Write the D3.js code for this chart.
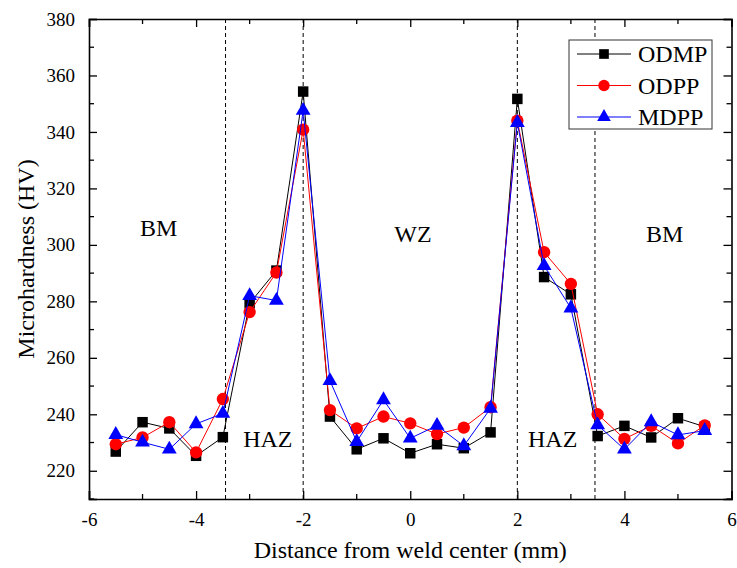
<!DOCTYPE html>
<html>
<head>
<meta charset="utf-8">
<script src="https://cdn.jsdelivr.net/npm/d3@7"></script>
<style>
  body { margin: 0; background: #fff; }
  svg { display: block; }
  svg text { font-family: "Liberation Serif", "Times New Roman", serif; fill: #000; }
</style>
</head>
<body>
<svg id="chart" width="737" height="568"></svg>
<script>
const distances = [-5.5, -5, -4.5, -4, -3.5, -3, -2.5, -2, -1.5, -1, -0.5, 0, 0.5, 1, 1.5, 2, 2.5, 3, 3.5, 4, 4.5, 5, 5.5]
const odmp = [226.8, 237.2, 235, 225.3, 231.9, 279.3, 290.9, 354.3, 239.2, 227.6, 231.5, 226.2, 229.4, 228, 233.6, 351.7, 288.6, 282.5, 232.3, 235.9, 231.8, 238.6, 235.6]
const odpp = [229.4, 231.8, 237.2, 226.5, 245.4, 276.2, 290.2, 340.8, 241.5, 235, 239.2, 236.8, 233, 235.3, 242.5, 344, 297.4, 286.2, 240, 231.3, 235.9, 229.7, 236.1]
const mdpp = [232.8, 230.1, 227.6, 236.6, 240.3, 282, 280.3, 347.6, 251.9, 230.3, 245.1, 231.5, 236, 228.8, 242.1, 343.3, 292.6, 277.6, 236.2, 227.6, 237.3, 232.7, 234.2]
const seriesNames = ["ODMP", "ODPP", "MDPP"]
const xTicks = [-6, -4, -2, 0, 2, 4, 6]
const yTicks = [220, 240, 260, 280, 300, 320, 340, 360, 380]
const zoneLines = [-3.45, -2, 2, 3.45]
const zoneLabels = [
  { text: "BM", x: -4.7, y: 306 },
  { text: "WZ", x: 0.05, y: 304 },
  { text: "BM", x: 4.75, y: 304 },
  { text: "HAZ", x: -2.66, y: 231.5 },
  { text: "HAZ", x: 2.66, y: 231.5 }
]

const svg = d3.select("#chart")
const margin = { top: 19, right: 5, bottom: 69, left: 89 }
const width = 737
const height = 568
const serif = "Liberation Serif"
const x = d3.scaleLinear().domain([-6, 6]).range([margin.left, width - margin.right - 0.5])
const y = d3.scaleLinear().domain([210, 380]).range([height - margin.bottom, margin.top])

const series = [
  { name: seriesNames[0], values: odmp, colour: "#000000", symbol: d3.symbolSquare, size: 110 },
  { name: seriesNames[1], values: odpp, colour: "#ff0000", symbol: d3.symbolCircle, size: 120 },
  { name: seriesNames[2], values: mdpp, colour: "#0000ff", symbol: d3.symbolTriangle, size: 95 }
]

// dashed zone borders
svg.append("g")
  .selectAll("line")
  .data(zoneLines)
  .enter()
  .append("line")
  .attr("x1", d => x(d)).attr("x2", d => x(d))
  .attr("y1", y(380)).attr("y2", y(210))
  .attr("stroke", "#000")
  .attr("stroke-width", 1)
  .attr("stroke-dasharray", "4,3")

// axes, ticks point inwards, mirrored on top and right
const minorX = d3.range(-5, 6, 2)
const minorY = d3.range(210, 381, 20)
const addMinor = (g, data, attrs) =>
  g.selectAll("line.minor").data(data).enter()
    .append("line").attr("class", "minor").attr("stroke", "#000").attr("stroke-width", 1.3)
    .each(function (d) {
      const sel = d3.select(this)
      Object.entries(attrs).forEach(([k, f]) => sel.attr(k, f(d)))
    })

const axisB = svg.append("g").attr("transform", `translate(0, ${y(210)})`)
axisB.call(d3.axisBottom(x).tickValues(xTicks).tickSize(-8).tickPadding(14).tickFormat(d => String(d)))
addMinor(axisB, minorX, { x1: d => x(d), x2: d => x(d), y1: () => 0, y2: () => -5 })

const axisT = svg.append("g").attr("transform", `translate(0, ${y(380)})`)
axisT.call(d3.axisTop(x).tickValues(xTicks).tickSize(-8).tickFormat(""))
addMinor(axisT, minorX, { x1: d => x(d), x2: d => x(d), y1: () => 0, y2: () => 5 })

const axisL = svg.append("g").attr("transform", `translate(${x(-6)}, 0)`)
axisL.call(d3.axisLeft(y).tickValues(yTicks).tickSize(-8).tickPadding(14))
addMinor(axisL, minorY, { y1: d => y(d), y2: d => y(d), x1: () => 0, x2: () => 5 })

const axisR = svg.append("g").attr("transform", `translate(${x(6)}, 0)`)
axisR.call(d3.axisRight(y).tickValues(yTicks).tickSize(-8).tickFormat(""))
addMinor(axisR, minorY, { y1: d => y(d), y2: d => y(d), x1: () => 0, x2: () => -5 })

svg.selectAll(".domain").attr("stroke-width", 1.6)
svg.selectAll(".tick line").attr("stroke-width", 1.3)
svg.selectAll("g").attr("font-family", serif)
svg.selectAll(".tick text").attr("font-size", 19).attr("fill", "#000").attr("font-family", serif)

// zone labels
svg.append("g")
  .selectAll("text")
  .data(zoneLabels)
  .enter()
  .append("text")
  .attr("x", d => x(d.x))
  .attr("y", d => y(d.y))
  .attr("dy", "0.35em")
  .attr("text-anchor", "middle")
  .attr("font-family", serif)
  .attr("font-size", 24)
  .text(d => d.text)

// lines and markers
const line = d3.line()
  .x((d, i) => x(distances[i]))
  .y(d => y(d))

series.forEach(s => {
  const g = svg.append("g")
  g.append("path")
    .attr("d", line(s.values))
    .attr("fill", "none")
    .attr("stroke", s.colour)
    .attr("stroke-width", 1)
  g.selectAll("path.pt")
    .data(s.values)
    .enter()
    .append("path")
    .attr("class", "pt")
    .attr("transform", (d, i) => `translate(${x(distances[i])}, ${y(d)})`)
    .attr("d", d3.symbol(s.symbol, s.size)())
    .attr("fill", s.colour)
})

// axis titles
svg.append("text")
  .attr("x", (x(-6) + x(6)) / 2)
  .attr("y", 558)
  .attr("text-anchor", "middle")
  .attr("font-family", serif)
  .attr("font-size", 24)
  .text("Distance from weld center (mm)")
svg.append("text")
  .attr("transform", `translate(34, ${(y(210) + y(380)) / 2}) rotate(-90)`)
  .attr("text-anchor", "middle")
  .attr("font-family", serif)
  .attr("font-size", 24)
  .text("Microhardness (HV)")

// legend
const legend = svg.append("g").attr("transform", "translate(569, 40)")
legend.append("rect")
  .attr("width", 143).attr("height", 89)
  .attr("fill", "#fff").attr("stroke", "#333").attr("stroke-width", 1)
series.forEach((s, i) => {
  const row = legend.append("g").attr("transform", `translate(0, ${14 + i * 31.5})`)
  row.append("line").attr("x1", 8).attr("x2", 62).attr("stroke", s.colour).attr("stroke-width", 1)
  row.append("path").attr("transform", "translate(35, 0)").attr("d", d3.symbol(s.symbol, s.size * 0.85)()).attr("fill", s.colour)
  row.append("text").attr("x", 69).attr("dy", "0.35em").attr("font-family", serif).attr("font-size", 24).text(s.name)
})
</script>
</body>
</html>
